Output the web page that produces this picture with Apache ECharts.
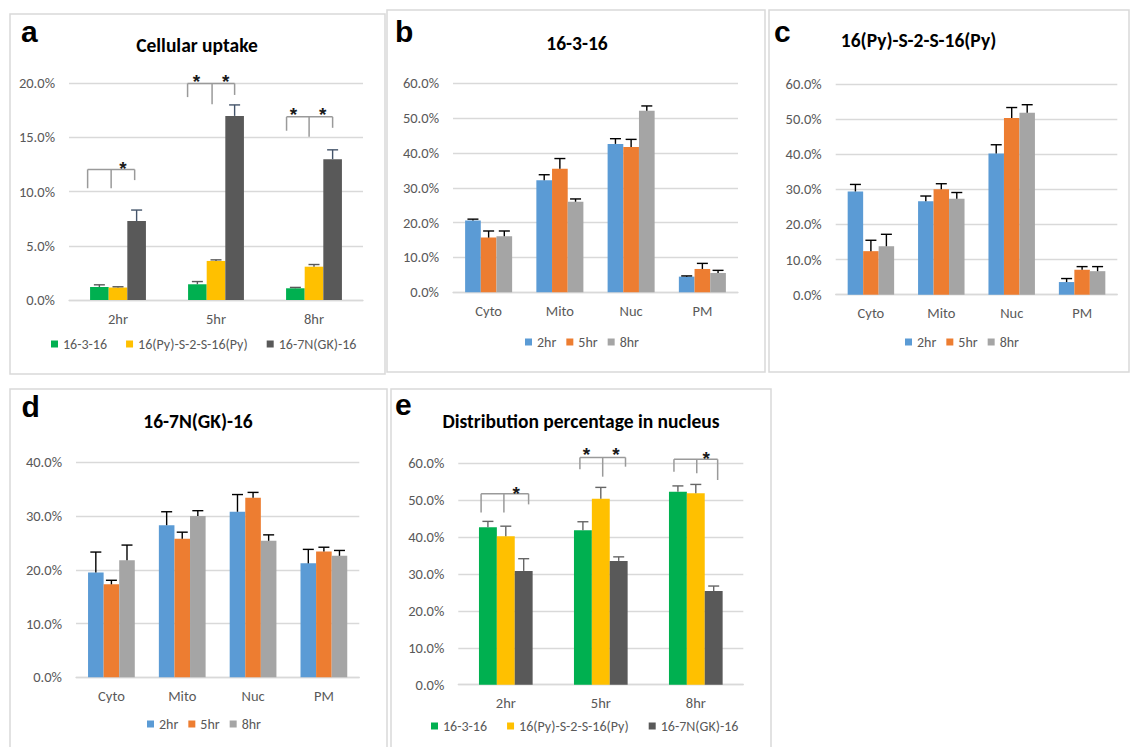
<!DOCTYPE html>
<html><head><meta charset="utf-8">
<script src="https://cdn.jsdelivr.net/npm/echarts@6/dist/echarts.min.js"></script>
<style>html,body{margin:0;padding:0;background:#fff}#main{width:1132px;height:747px}</style>
</head><body><div id="main"></div>
<script>
// ---------- data ----------
const timePoints = ['2hr', '5hr', '8hr'];
const compartments = ['Cyto', 'Mito', 'Nuc', 'PM'];
const surfactants = ['16-3-16', '16(Py)-S-2-S-16(Py)', '16-7N(GK)-16'];

// a: cellular uptake (%)
const uptake16_3_16 = [1.20, 1.45, 1.08];
const uptake16_3_16Err = [0.20, 0.25, 0.08];
const uptakePy = [1.15, 3.60, 3.07];
const uptakePyErr = [0.07, 0.10, 0.20];
const uptakeGK = [7.27, 16.97, 12.98];
const uptakeGKErr = [1.02, 1.01, 0.86];

// b: 16-3-16 distribution (%)
const b2hr = [20.6, 32.15, 42.6, 4.5];
const b2hrErr = [0.4, 1.6, 1.5, 0.2];
const b5hr = [15.7, 35.5, 41.7, 6.7];
const b5hrErr = [1.9, 2.9, 2.2, 1.6];
const b8hr = [16.1, 26.0, 52.1, 5.55];
const b8hrErr = [1.5, 0.8, 1.4, 0.75];

// c: 16(Py)-S-2-S-16(Py) distribution (%)
const c2hr = [29.4, 26.6, 40.2, 3.6];
const c2hrErr = [2.0, 1.5, 2.5, 1.0];
const c5hr = [12.4, 30.0, 50.3, 7.1];
const c5hrErr = [3.1, 1.6, 3.0, 0.9];
const c8hr = [13.8, 27.35, 51.8, 6.7];
const c8hrErr = [3.4, 1.75, 2.3, 1.3];

// d: 16-7N(GK)-16 distribution (%)
const d2hr = [19.5, 28.3, 30.8, 21.2];
const d2hrErr = [3.8, 2.5, 3.2, 2.6];
const d5hr = [17.3, 25.8, 33.4, 23.4];
const d5hrErr = [0.75, 1.2, 1.0, 0.8];
const d8hr = [21.8, 30.0, 25.4, 22.6];
const d8hrErr = [2.8, 1.0, 1.1, 1.0];

// e: distribution in nucleus (%)
const nuc16_3_16 = [42.6, 41.8, 52.2];
const nuc16_3_16Err = [1.6, 2.3, 1.6];
const nucPy = [40.15, 50.35, 51.8];
const nucPyErr = [2.75, 3.05, 2.4];
const nucGK = [30.8, 33.5, 25.35];
const nucGKErr = [3.3, 1.1, 1.35];

// significance brackets: [category, leftOffset, midOffset, rightOffset (band fractions), top, leftEnd, midEnd, rightEnd]
const bracketsA = [
  [0, -0.31, -0.07, 0.17, 12.03, 10.3, 10.3, 11.05],
  [1, -0.29, -0.04, 0.19, 19.95, 18.7, 18.05, 18.9],
  [2, -0.28, -0.05, 0.19, 16.88, 15.6, 15.04, 15.87]
];
const starsA = [[0, 0.05, 12.5], [1, -0.20, 20.5], [1, 0.10, 20.5], [2, -0.21, 17.5], [2, 0.09, 17.5]];
const bracketsE = [
  [0, -0.26, -0.02, 0.24, 51.7, 46.6, 46.6, 48.8],
  [1, -0.22, 0.02, 0.26, 61.5, 58.3, 56.3, 59.0],
  [2, -0.23, 0.01, 0.23, 61.0, 57.6, 57.2, 55.4]
];
const starsE = [[0, 0.11, 52.9], [1, -0.15, 63.5], [1, 0.16, 63.5], [2, 0.11, 62.4]];

// ---------- styling ----------
const FONT = 'Carlito, Calibri, Lato, sans-serif';
const timeColors = ['#5B9BD5', '#ED7D31', '#A5A5A5'];
const surfColors = ['#00B050', '#FFC000', '#595959'];

const chart = echarts.init(document.getElementById('main'), null, {renderer: 'svg'});

const grids = [
  {left: 69, top: 83, width: 294, height: 217},       // a
  {left: 453, top: 83.3, width: 285, height: 209},    // b
  {left: 835.7, top: 84, width: 281.6, height: 210.7},// c
  {left: 76, top: 462.3, width: 283.3, height: 215},  // d
  {left: 458.3, top: 463, width: 285, height: 221.7}  // e
];
const yMax = [20, 60, 60, 40, 60];
const yInt = [5, 10, 10, 10, 10];
const xCats = [timePoints, compartments, compartments, compartments, timePoints];

const xAxis = xCats.map((cats, i) => ({
  type: 'category', gridIndex: i, data: cats,
  axisLine: {lineStyle: {color: '#d9d9d9', width: 1.3}},
  axisTick: {show: false},
  axisLabel: {color: '#595959', fontSize: 14.5, fontFamily: FONT, margin: 11}
}));
const yAxis = yMax.map((m, i) => ({
  type: 'value', gridIndex: i, min: 0, max: m, interval: yInt[i],
  axisLine: {show: false}, axisTick: {show: false},
  splitLine: {lineStyle: {color: '#d9d9d9', width: 1.3}},
  axisLabel: {color: '#595959', fontSize: 14.5, fontFamily: FONT, margin: 14,
    formatter: v => v.toFixed(1) + '%'}
}));

function errRender(idx, n, gap, color) {
  return function (params, api) {
    const c = api.value(0);
    const band = api.size([1, 0])[0];
    const bw = band * (1 - gap) / n;
    const off = (idx - (n - 1) / 2) * bw;
    const p0 = api.coord([c, api.value(1)]);
    const p1 = api.coord([c, api.value(2)]);
    const cx = p0[0] + off;
    const st = {stroke: color, lineWidth: 1.4};
    return {type: 'group', children: [
      {type: 'line', shape: {x1: cx, y1: p0[1], x2: cx, y2: p1[1]}, style: st},
      {type: 'line', shape: {x1: cx - 5.5, y1: p1[1], x2: cx + 5.5, y2: p1[1]}, style: st}
    ]};
  };
}
function bracketRender(params, api) {
  const c = api.value(0);
  const band = api.size([1, 0])[0];
  const base = api.coord([c, 0])[0];
  const xs = [1, 2, 3].map(k => base + api.value(k) * band);
  const yTop = api.coord([c, api.value(4)])[1];
  const ends = [5, 6, 7].map(k => api.coord([c, api.value(k)])[1]);
  const st = {stroke: '#9a9a9a', lineWidth: 1.5, fill: 'none'};
  return {type: 'group', children: [
    {type: 'line', shape: {x1: xs[0], y1: yTop, x2: xs[2], y2: yTop}, style: st},
    {type: 'line', shape: {x1: xs[0], y1: yTop, x2: xs[0], y2: ends[0]}, style: st},
    {type: 'line', shape: {x1: xs[1], y1: yTop, x2: xs[1], y2: ends[1]}, style: st},
    {type: 'line', shape: {x1: xs[2], y1: yTop, x2: xs[2], y2: ends[2]}, style: st}
  ]};
}
function starRender(params, api) {
  const c = api.value(0);
  const band = api.size([1, 0])[0];
  const p = api.coord([c, api.value(2)]);
  return {type: 'text', x: p[0] + api.value(1) * band, y: p[1] + 4,
    style: {text: '*', fill: '#1a1a1a', font: 'bold 19px "Liberation Sans", Arial, sans-serif',
      align: 'center', verticalAlign: 'middle', textAlign: 'center', textVerticalAlign: 'middle'}};
}

const series = [];
function addGroup(gi, names, datas, errs, colors, gap, errColors) {
  names.forEach((nm, k) => {
    series.push({type: 'bar', name: nm, xAxisIndex: gi, yAxisIndex: gi, data: datas[k],
      barGap: '0%', barCategoryGap: gap + '%', itemStyle: {color: colors[k]}, silent: true});
  });
  names.forEach((nm, k) => {
    series.push({type: 'custom', name: nm + ' error', xAxisIndex: gi, yAxisIndex: gi, z: 3, silent: true,
      data: datas[k].map((v, i) => [i, v, v + errs[k][i]]),
      renderItem: errRender(k, names.length, gap / 100, errColors[k])});
  });
}
addGroup(0, surfactants, [uptake16_3_16, uptakePy, uptakeGK], [uptake16_3_16Err, uptakePyErr, uptakeGKErr],
  surfColors, 43, ['#595959', '#595959', '#44546A']);
addGroup(1, timePoints, [b2hr, b5hr, b8hr], [b2hrErr, b5hrErr, b8hrErr], timeColors, 34, ['#000', '#000', '#000']);
addGroup(2, timePoints, [c2hr, c5hr, c8hr], [c2hrErr, c5hrErr, c8hrErr], timeColors, 34, ['#000', '#000', '#000']);
addGroup(3, timePoints, [d2hr, d5hr, d8hr], [d2hrErr, d5hrErr, d8hrErr], timeColors, 34, ['#000', '#000', '#000']);
addGroup(4, surfactants, [nuc16_3_16, nucPy, nucGK], [nuc16_3_16Err, nucPyErr, nucGKErr],
  surfColors, 43.5, ['#666', '#666', '#666']);

[[0, bracketsA, starsA], [4, bracketsE, starsE]].forEach(([gi, br, stars]) => {
  series.push({type: 'custom', name: 'brackets' + gi, xAxisIndex: gi, yAxisIndex: gi, z: 4, silent: true,
    encode: {x: 0, y: 4}, data: br, renderItem: bracketRender});
  series.push({type: 'custom', name: 'stars' + gi, xAxisIndex: gi, yAxisIndex: gi, z: 5, silent: true,
    encode: {x: 0, y: 2}, data: stars, renderItem: starRender});
});

function legend(names, left, top, gap) {
  return {data: names, left: left, top: top, itemWidth: 7, itemHeight: 7, itemGap: gap, icon: 'rect',
    selectedMode: false, textStyle: {color: '#595959', fontSize: 14, fontFamily: FONT}};
}
const legends = [
  legend(surfactants, 46, 332, 19),
  legend(timePoints, 520, 330, 10),
  legend(timePoints, 900, 330, 10),
  legend(timePoints, 142, 712, 10),
  legend(surfactants, 426, 714, 20)
];

const panelBoxes = [[10, 14, 375, 360], [387, 10, 378, 362], [769, 10, 360, 362], [10, 389, 377, 370], [391, 389, 380, 370]];
const letters = [['a', 21, 31.5], ['b', 395, 31], ['c', 774, 31], ['d', 21.5, 406], ['e', 395, 404.5]];
const titles = [['Cellular uptake', 197, 45], ['16-3-16', 577, 42.7], ['16(Py)-S-2-S-16(Py)', 918.5, 40.4],
  ['16-7N(GK)-16', 198, 421], ['Distribution percentage in nucleus', 581, 421]];

const graphic = [];
panelBoxes.forEach(b => graphic.push({type: 'rect', shape: {x: b[0], y: b[1], width: b[2], height: b[3]},
  style: {fill: 'none', stroke: '#d9d9d9', lineWidth: 1.5}, silent: true, z: -10}));
letters.forEach(l => graphic.push({type: 'text', x: l[1], y: l[2], silent: true,
  style: {text: l[0], fill: '#000', font: 'bold 30px "Liberation Sans", Arial, sans-serif',
    align: 'left', verticalAlign: 'middle', textAlign: 'left', textVerticalAlign: 'middle'}}));
titles.forEach(t => graphic.push({type: 'text', x: t[1], y: t[2], silent: true,
  style: {text: t[0], fill: '#000', font: 'bold 19.5px ' + FONT,
    align: 'center', verticalAlign: 'middle', textAlign: 'center', textVerticalAlign: 'middle'}}));

chart.setOption({
  animation: false,
  backgroundColor: '#fff',
  grid: grids,
  xAxis: xAxis,
  yAxis: yAxis,
  legend: legends,
  series: series,
  graphic: graphic
});
</script>
</body></html>
